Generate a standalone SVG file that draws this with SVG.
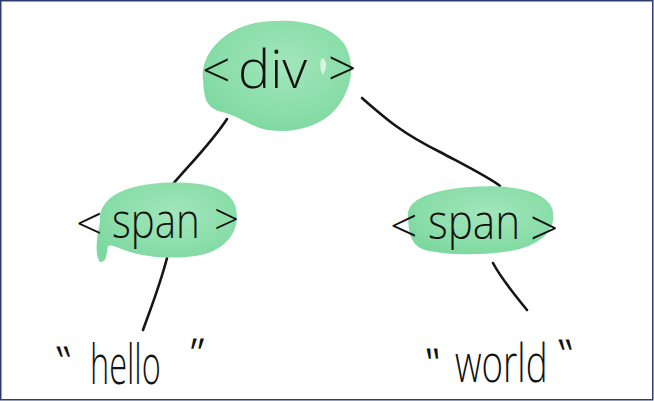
<svg xmlns="http://www.w3.org/2000/svg" width="654" height="401" viewBox="0 0 654 401">
  <defs>
    <radialGradient id="wash" cx="0.55" cy="0.4" r="0.65">
      <stop offset="0" stop-color="#a2e6bb"/>
      <stop offset="0.7" stop-color="#89dda8"/>
      <stop offset="1" stop-color="#7dd89f"/>
    </radialGradient>
  </defs>
  <style>
    .blob { fill: url(#wash); }
    .hl { fill: #e2f8ea; opacity: 0.85; }
    .edge { fill: none; stroke: #151515; stroke-width: 2.6; stroke-linecap: round; }
    .t { font-family: "Open Sans", "Liberation Sans", sans-serif; font-weight: 300; fill: #121212; }
    .q { font-family: "Open Sans", "Liberation Sans", sans-serif; font-weight: 400; fill: #121212; font-size: 40px; }
  </style>
  <rect x="0.75" y="0.75" width="652" height="399" fill="#ffffff" stroke="#2b3e6d" stroke-width="1.5"/>
  <g id="connectors">
    <path class="edge" d="M227 119 C212 142 192 162 173 184"/>
    <path class="edge" d="M362 98 C385 118 400 132 440 152 C470 168 490 178 500 186"/>
    <path class="edge" d="M167 258 C160 285 152 305 143 330"/>
    <path class="edge" d="M493 263 C502 280 515 295 527 310"/>
  </g>
  <g id="node-div">
    <path class="blob" d="M203 80 C200 55 222 30 255 23 C290 17 330 22 345 45 C356 65 352 90 335 110 C320 126 295 134 268 130 C250 127 240 116 222 112 C206 108 204 98 203 80 Z"/>
    <path class="hl" d="M322 58 C327 60 328 66 323 75 C320 70 319 63 322 58 Z"/>
    <text class="t" font-size="50" x="202" y="88">&lt;</text>
    <text class="t" font-size="54" x="238" y="88">div</text>
    <text class="t" font-size="50" x="328" y="86">&gt;</text>
  </g>
  <g id="node-span-left">
    <path class="blob" d="M100 222 C98 200 120 186 160 183 C200 181 230 186 236 208 C240 228 230 246 205 254 C180 260 150 258 130 252 C118 248 112 244 108 246 C106 252 108 262 100 262 C95 256 96 240 100 222 Z"/>
    <text class="t" font-size="46" x="76" y="240">&lt;</text>
    <text class="t" font-size="48" transform="translate(112 238) scale(0.84 1)">span</text>
    <text class="t" font-size="44" x="214" y="235">&gt;</text>
  </g>
  <g id="node-span-right">
    <path class="blob" d="M408 218 C405 200 430 190 470 187 C510 184 545 190 552 208 C558 226 545 245 510 251 C480 256 445 255 425 250 C410 245 409 232 408 218 Z"/>
    <text class="t" font-size="48" x="390" y="243">&lt;</text>
    <text class="t" font-size="48" transform="translate(428 239) scale(0.88 1)">span</text>
    <text class="t" font-size="50" x="530" y="246">&gt;</text>
  </g>
  <g id="node-hello">
    <text class="q" transform="translate(64 375) skewX(20)">"</text>
    <text class="t" font-size="56" transform="translate(90 384) scale(0.58 1)">hello</text>
    <text class="q" transform="translate(183 367) skewX(-15)">"</text>
  </g>
  <g id="node-world">
    <text class="q" transform="translate(428 377) skewX(8)">"</text>
    <text class="t" font-size="54" transform="translate(455 382) scale(0.68 1)">world</text>
    <text class="q" transform="translate(565 368) skewX(18)">"</text>
  </g>
</svg>
